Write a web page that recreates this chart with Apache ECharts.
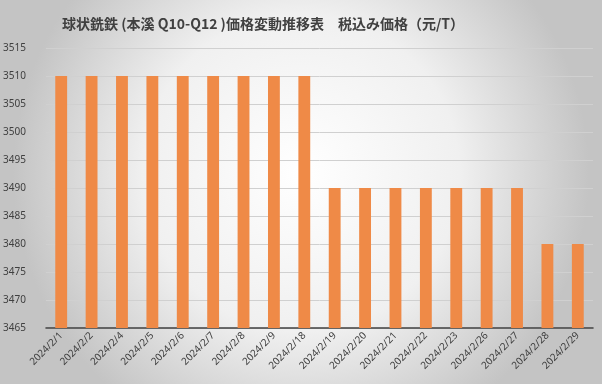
<!DOCTYPE html>
<html><head><meta charset="utf-8">
<script src="https://cdn.jsdelivr.net/npm/echarts@6/dist/echarts.min.js"></script>
<style>html,body{margin:0;padding:0;}#c{width:602px;height:384px;}</style>
</head><body><div id="c"></div>
<script>
const titleText = '球状銑鉄 (本溪 Q10-Q12 )価格変動推移表　税込み価格（元/T）';
const categories = ['2024/2/1','2024/2/2','2024/2/4','2024/2/5','2024/2/6','2024/2/7','2024/2/8','2024/2/9','2024/2/18','2024/2/19','2024/2/20','2024/2/21','2024/2/22','2024/2/23','2024/2/26','2024/2/27','2024/2/28','2024/2/29'];
const prices = [3510,3510,3510,3510,3510,3510,3510,3510,3510,3490,3490,3490,3490,3490,3490,3490,3480,3480];
const yMin = 3465, yMax = 3515, yStep = 5;

const chart = echarts.init(document.getElementById('c'));
chart.setOption({
  animation: false,
  backgroundColor: {type:'radial', x:0.5, y:0.45, r:0.75, colorStops:[{offset:0,color:'#ffffff'},{offset:0.55,color:'#f0f0f0'},{offset:1,color:'#c4c4c4'}]},
  title: {text: titleText, left: 57, top: 12, textStyle:{fontFamily:'Noto Sans CJK JP', fontSize:14, fontWeight:'bold', color:'#404040'}},
  grid: {left: 37, right: 9, top: 48, bottom: 56},
  xAxis: {type:'category', data: categories,
    axisLine:{lineStyle:{color:'#404040', width:1.5}}, axisTick:{show:false},
    axisLabel:{rotate:45, interval:0, fontFamily:'Noto Sans', fontSize:10, color:'#404040', margin:6}},
  yAxis: {type:'value', min:yMin, max:yMax, interval:yStep,
    axisLine:{show:false}, axisTick:{show:false},
    axisLabel:{fontFamily:'Noto Sans', fontSize:10, color:'#404040', margin:8, align:'left', padding:[0,0,0,-35], formatter: v => String(v)},
    splitLine:{lineStyle:{color:'#d0d0d0'}}},
  series: [{type:'bar', data: prices, barWidth:'39%', itemStyle:{color:'#EF8A47'}}]
});
</script></body></html>
